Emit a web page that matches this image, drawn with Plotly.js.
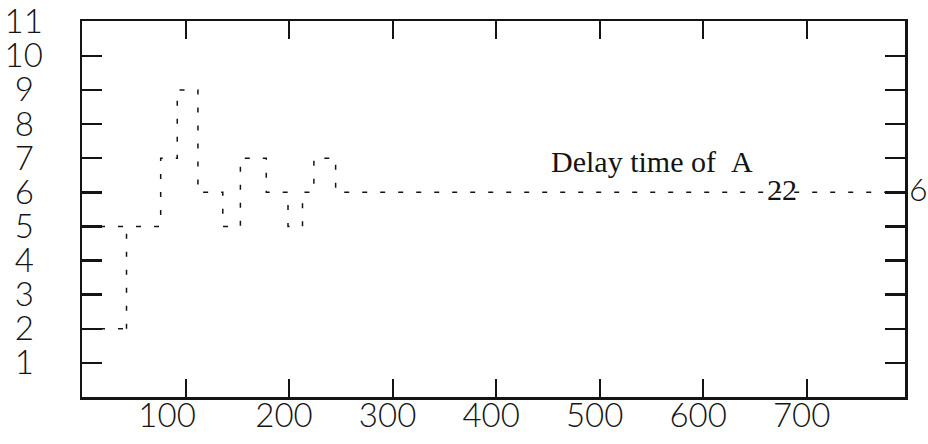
<!DOCTYPE html>
<html>
<head>
<meta charset="utf-8">
<script src="https://cdn.plot.ly/plotly-3.0.1.min.js"></script>
<style>
  html, body { margin: 0; padding: 0; background: #ffffff; }
  #chart { width: 928px; height: 444px; }
</style>
</head>
<body>
<div id="chart"></div>
<script>
// ---- data ----
// main step curve (drawn horizontal-then-vertical)
const stepX = [0, 76, 92, 112, 136, 153, 178, 199, 213, 224, 245, 795];
const stepY = [5, 7, 9, 6, 5, 7, 6, 5, 6, 7, 6, 6];
// early part of the curve at level 2 and its jump up to 5
const lowX = [0, 50];
const lowY = [2, 2];
const jumpX = [43, 43];
const jumpY = [2, 5];
// axes
const xTickVals = [100, 200, 300, 400, 500, 600, 700];
const xTickText = ['100\u00a0\u00a0\u00a0', '200', '300', '400', '500', '600', '700'];
const yTickVals = [1, 2, 3, 4, 5, 6, 7, 8, 9, 10, 11];
const yTickText = ['1\u00a0', '2\u00a0', '3\u00a0', '4\u00a0', '5\u00a0', '6\u00a0', '7\u00a0', '8\u00a0', '9\u00a0', '10', '11'];
// labels
const curveLabel = 'Delay time of\u00a0\u00a0A';
const curveSub = '22';
const finalLevel = 6;

const ink = '#141414';
const dashed = { color: ink, width: 1.5, dash: '5px,13px' };

const traces = [
  { x: stepX, y: stepY, mode: 'lines', line: Object.assign({ shape: 'hv' }, dashed), hoverinfo: 'skip' },
  { x: lowX, y: lowY, mode: 'lines', line: dashed, hoverinfo: 'skip' },
  { x: jumpX, y: jumpY, mode: 'lines', line: dashed, hoverinfo: 'skip' }
];

const tickFont = { family: 'Lato, "Open Sans", sans-serif', size: 33, color: ink, weight: 300 };
const serif = '"Liberation Serif", "Times New Roman", serif';

const layout = {
  width: 928,
  height: 444,
  margin: { l: 82, r: 23, t: 21, b: 47, pad: 0 },
  paper_bgcolor: '#ffffff',
  plot_bgcolor: '#ffffff',
  showlegend: false,
  xaxis: {
    range: [0, 795],
    tickmode: 'array',
    tickvals: xTickVals,
    ticktext: xTickText,
    ticks: 'inside',
    ticklen: 18,
    tickwidth: 2,
    tickcolor: ink,
    showline: true,
    linewidth: 2.5,
    linecolor: ink,
    mirror: 'ticks',
    showgrid: false,
    zeroline: false,
    tickfont: tickFont,
    ticklabelshift: -5,
    ticklabelstandoff: -12,
    fixedrange: true
  },
  yaxis: {
    range: [0, 11.02],
    tickmode: 'array',
    tickvals: yTickVals,
    ticktext: yTickText,
    ticks: 'inside',
    ticklen: 20,
    tickwidth: 2.5,
    tickcolor: ink,
    showline: true,
    linewidth: 2.5,
    linecolor: ink,
    mirror: 'ticks',
    showgrid: false,
    zeroline: false,
    tickfont: tickFont,
    ticklabelstandoff: 30,
    fixedrange: true
  },
  annotations: [
    { text: curveLabel, xref: 'x', yref: 'y', x: 451, y: 6.9, xanchor: 'left', yanchor: 'middle',
      showarrow: false, font: { family: serif, size: 30, color: ink } },
    { text: curveSub, xref: 'x', yref: 'y', x: 660, y: 6.07, xanchor: 'left', yanchor: 'middle',
      showarrow: false, font: { family: serif, size: 30, color: ink } },
    { text: String(finalLevel), xref: 'paper', yref: 'y', x: 1, y: finalLevel + 0.1, xanchor: 'left', yanchor: 'middle',
      xshift: 2, showarrow: false, font: { family: 'Lato, sans-serif', size: 32, color: ink, weight: 300 } }
  ]
};

Plotly.newPlot('chart', traces, layout, { staticPlot: true, displayModeBar: false });
</script>
</body>
</html>
